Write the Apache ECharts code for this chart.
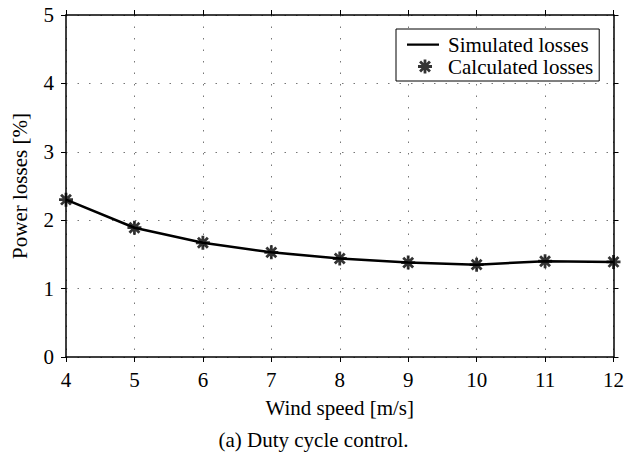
<!DOCTYPE html>
<html>
<head>
<meta charset="utf-8">
<script src="https://cdn.jsdelivr.net/npm/echarts@6/dist/echarts.min.js"></script>
<style>
  html, body { margin: 0; padding: 0; background: #fff; }
  #chart { width: 627px; height: 454px; }
</style>
</head>
<body>
<div id="chart"></div>
<script>
var windSpeed = [4, 5, 6, 7, 8, 9, 10, 11, 12];
var simulatedLosses = [2.30, 1.89, 1.67, 1.53, 1.44, 1.38, 1.35, 1.40, 1.39];
var calculatedLosses = [2.30, 1.89, 1.67, 1.53, 1.44, 1.38, 1.35, 1.40, 1.39];

(function () {
  var font = 'Liberation Serif';
  var ink = '#000';
  var fs = 21;

  // asterisk marker: four overlapping bars (0, 45, 90, 135 degrees)
  function starPath() {
    var parts = [];
    var L = 10, w = 2;
    [0, 45, 90, 135].forEach(function (deg) {
      var a = deg * Math.PI / 180;
      var c = Math.cos(a), s = Math.sin(a);
      var pts = [[-L, -w], [L, -w], [L, w], [-L, w]].map(function (p) {
        return [(p[0] * c - p[1] * s + 10).toFixed(2), (p[0] * s + p[1] * c + 10).toFixed(2)];
      });
      parts.push('M' + pts.map(function (p) { return p.join(' '); }).join(' L') + ' Z');
    });
    return 'path://' + parts.join(' ');
  }
  var star = starPath();
  // plain line for the legend, padded with tiny corner specks so it keeps its thickness
  var lineIcon = 'path://M0 0 L0.01 0 L0 0.01 Z M0 6 L32 6 L32 8.2 L0 8.2 Z M36 14 L35.99 14 L36 13.99 Z';

  function pairs(ys) {
    return windSpeed.map(function (x, i) { return [x, ys[i]]; });
  }

  var axisCommon = {
    axisLine: { show: true, onZero: false, lineStyle: { color: ink, width: 1.5 } },
    axisTick: { show: true, inside: false, length: 5, lineStyle: { color: ink, width: 1 } },
    axisLabel: { color: ink, fontFamily: font, fontSize: fs }
  };
  var gridLine = { show: true, lineStyle: { color: '#777', type: [1.5, 10], width: 1 } };

  var chart = echarts.init(document.getElementById('chart'), null, { renderer: 'svg' });
  chart.setOption({
    animation: false,
    textStyle: { fontFamily: font },
    grid: { left: 66, right: 10, top: 15, bottom: 97 },
    title: {
      text: '(a) Duty cycle control.',
      left: 'center',
      top: 429,
      padding: 0,
      textStyle: { fontFamily: font, fontSize: fs, fontWeight: 'normal', color: ink }
    },
    legend: {
      orient: 'vertical',
      left: 396,
      top: 29,
      padding: [5, 6, 4, 11],
      itemGap: 1,
      itemWidth: 36,
      itemHeight: 14,
      borderColor: ink,
      borderWidth: 1,
      backgroundColor: '#fff',
      textStyle: { fontFamily: font, fontSize: fs, color: ink },
      data: [
        { name: 'Simulated losses', icon: lineIcon, itemStyle: { color: ink } },
        { name: 'Calculated losses', icon: star, itemStyle: { color: ink } }
      ]
    },
    xAxis: [
      Object.assign({}, axisCommon, {
        type: 'value',
        min: 4,
        max: 12,
        interval: 1,
        position: 'bottom',
        name: 'Wind speed [m/s]',
        nameLocation: 'middle',
        nameGap: 40,
        nameTextStyle: { color: ink, fontFamily: font, fontSize: fs },
        axisLabel: { color: ink, fontFamily: font, fontSize: fs, margin: 12 },
        splitLine: gridLine
      }),
      Object.assign({}, axisCommon, {
        type: 'value',
        min: 4,
        max: 12,
        interval: 1,
        position: 'top',
        axisLabel: { show: false },
        splitLine: { show: false }
      })
    ],
    yAxis: [
      Object.assign({}, axisCommon, {
        type: 'value',
        min: 0,
        max: 5,
        interval: 1,
        position: 'left',
        name: 'Power losses [%]',
        nameLocation: 'middle',
        nameGap: 36,
        nameRotate: 90,
        nameTextStyle: { color: ink, fontFamily: font, fontSize: fs },
        axisLabel: { color: ink, fontFamily: font, fontSize: fs, margin: 12 },
        splitLine: gridLine
      }),
      Object.assign({}, axisCommon, {
        type: 'value',
        min: 0,
        max: 5,
        interval: 1,
        position: 'right',
        axisLabel: { show: false },
        splitLine: { show: false }
      })
    ],
    series: [
      {
        name: 'Simulated losses',
        type: 'line',
        data: pairs(simulatedLosses),
        symbol: 'none',
        lineStyle: { color: ink, width: 2.5 },
        itemStyle: { color: ink },
        z: 3
      },
      {
        name: 'Calculated losses',
        type: 'scatter',
        data: pairs(calculatedLosses),
        symbol: star,
        symbolSize: 14,
        itemStyle: { color: ink },
        z: 4
      }
    ]
  });
})();
</script>
</body>
</html>
